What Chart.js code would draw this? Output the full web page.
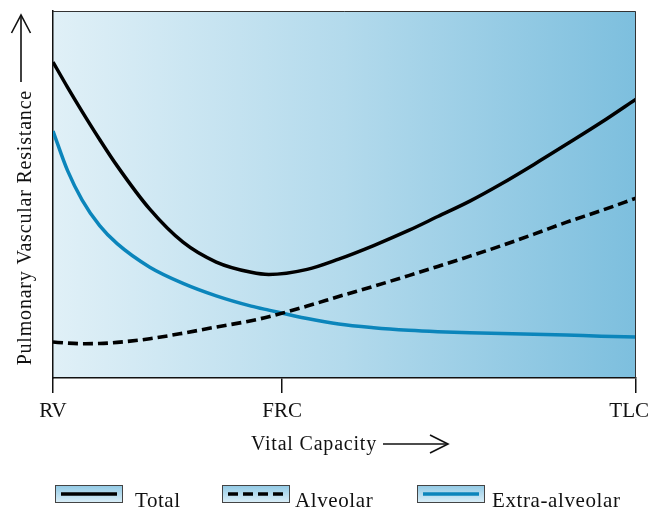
<!DOCTYPE html>
<html>
<head>
<meta charset="utf-8">
<script src="https://cdn.jsdelivr.net/npm/chart.js@4.4.1/dist/chart.umd.min.js"></script>
<style>
  html, body { margin: 0; padding: 0; background: #fff; }
  #wrap { width: 650px; height: 510px; }
</style>
</head>
<body>
<div id="wrap"><canvas id="chart"></canvas></div>
<script>
// percent of vital capacity, RV = 0, TLC = 100
const vitalCapacity = [0, 2.5, 5, 8, 11, 16.6, 22.3, 28, 34, 37, 43.6, 49, 55, 61, 66, 71.5, 77, 82.5, 88, 94, 100];
const total = [86.1, 79.2, 72.6, 65.0, 57.8, 46.0, 37.0, 31.6, 28.8, 28.2, 29.6, 32.4, 36.1, 40.2, 44.0, 48.2, 53.0, 58.2, 63.6, 69.6, 76.0];
const alveolar = [9.8, 9.5, 9.35, 9.4, 9.7, 10.7, 12.2, 13.9, 15.6, 16.7, 19.6, 22.2, 25.0, 27.9, 30.4, 33.2, 36.1, 39.2, 42.4, 45.6, 49.0];
const extraAlveolar = [67.3, 56.5, 48.5, 41.5, 36.6, 30.2, 25.8, 22.4, 19.6, 18.5, 16.2, 14.7, 13.7, 13.0, 12.6, 12.3, 12.1, 11.9, 11.7, 11.4, 11.2];
const tickValues = [0, 39.3, 100];
const tickLabels = ['RV', 'FRC', 'TLC'];
const seriesNames = ['Total', 'Alveolar', 'Extra-alveolar'];
const xTitle = 'Vital Capacity';
const yTitle = 'Pulmonary Vascular Resistance';

const SERIF = '"Liberation Serif", "DejaVu Serif", serif';
const pts = vals => vals.map((v, i) => ({ x: vitalCapacity[i], y: v }));

// open up the lettering slightly so it covers about the same length as the original
function spaced(ctx, text, target, maxGap) {
  if (!('letterSpacing' in ctx)) return;
  ctx.letterSpacing = '0px';
  const w = ctx.measureText(text).width;
  const s = Math.min(maxGap, Math.max(0, (target - w) / (text.length - 1)));
  ctx.letterSpacing = s.toFixed(2) + 'px';
}

function arrowHead(ctx, tipX, tipY, dx, dy, len, half) {
  const bx = tipX - dx * len, by = tipY - dy * len;
  ctx.beginPath();
  ctx.moveTo(bx - dy * half, by + dx * half);
  ctx.lineTo(tipX, tipY);
  ctx.lineTo(bx + dy * half, by - dx * half);
  ctx.stroke();
}

const decor = {
  id: 'decor',
  beforeDraw(chart) {
    const { ctx, chartArea: a } = chart;
    const g = ctx.createLinearGradient(a.left, 0, a.right, 0);
    g.addColorStop(0, '#e0f0f7');
    g.addColorStop(0.5, '#b3daec');
    g.addColorStop(1, '#7dbfde');
    ctx.save();
    ctx.fillStyle = g;
    ctx.fillRect(a.left, a.top, a.right - a.left, a.bottom - a.top);
    ctx.restore();
  },
  afterDraw(chart) {
    const { ctx, chartArea: a } = chart;
    const xs = chart.scales.x;
    ctx.save();

    // frame top / right
    ctx.strokeStyle = '#333';
    ctx.lineWidth = 1;
    ctx.beginPath();
    ctx.moveTo(a.left, a.top + 0.5);
    ctx.lineTo(a.right - 0.5, a.top + 0.5);
    ctx.lineTo(a.right - 0.5, a.bottom);
    ctx.stroke();

    // tick labels
    ctx.fillStyle = '#111';
    ctx.font = '21px ' + SERIF;
    ctx.textAlign = 'center';
    ctx.textBaseline = 'alphabetic';
    tickValues.forEach((v, i) => {
      const w = ctx.measureText(tickLabels[i]).width;
      let px = xs.getPixelForValue(v);
      px = Math.min(Math.max(px, w / 2 + 1), chart.width - w / 2 - 1);
      ctx.fillText(tickLabels[i], px, 417);
    });

    // x title + arrow
    ctx.font = '20px ' + SERIF;
    spaced(ctx, xTitle, 132, 0.8);
    ctx.textAlign = 'right';
    ctx.fillText(xTitle, 377, 450);
    ctx.letterSpacing = '0px';
    ctx.strokeStyle = '#111';
    ctx.lineWidth = 1.6;
    ctx.beginPath();
    ctx.moveTo(383, 444);
    ctx.lineTo(447, 444);
    ctx.stroke();
    arrowHead(ctx, 448, 444, 1, 0, 18, 9);

    // y title + arrow
    ctx.save();
    ctx.translate(31, 90);
    ctx.rotate(-Math.PI / 2);
    ctx.font = '20px ' + SERIF;
    spaced(ctx, yTitle, 290, 0.8);
    ctx.textAlign = 'right';
    ctx.fillText(yTitle, 0, 0);
    ctx.restore();
    ctx.letterSpacing = '0px';
    ctx.beginPath();
    ctx.moveTo(21, 82);
    ctx.lineTo(21, 16);
    ctx.stroke();
    arrowHead(ctx, 21, 15, 0, -1, 18, 9.5);

    // legend
    const boxX = [55, 222, 417];
    const textX = [135, 295, 492];
    chart.data.datasets.forEach((ds, i) => {
      const x = boxX[i], y = 485, w = 68, h = 18;
      const bg = ctx.createLinearGradient(0, y, 0, y + h);
      bg.addColorStop(0, '#8fc8e4');
      bg.addColorStop(1, '#dceff8');
      ctx.fillStyle = bg;
      ctx.fillRect(x, y, w, h);
      ctx.strokeStyle = '#444';
      ctx.lineWidth = 1;
      ctx.strokeRect(x + 0.5, y + 0.5, w - 1, h - 1);
      ctx.strokeStyle = ds.borderColor;
      ctx.lineWidth = ds.borderWidth;
      ctx.setLineDash(ds.borderDash || []);
      ctx.beginPath();
      ctx.moveTo(x + 6, y + h / 2);
      ctx.lineTo(x + w - 6, y + h / 2);
      ctx.stroke();
      ctx.setLineDash([]);
      ctx.fillStyle = '#111';
      ctx.font = '21px ' + SERIF;
      spaced(ctx, ds.label, [45, 84, 135][i], 0.6);
      ctx.textAlign = 'left';
      ctx.fillText(ds.label, textX[i], 507);
      ctx.letterSpacing = '0px';
    });
    ctx.restore();
  }
};

new Chart(document.getElementById('chart'), {
  type: 'line',
  data: {
    datasets: [
      { label: seriesNames[0], data: pts(total), borderColor: '#000', borderWidth: 3.5 },
      { label: seriesNames[1], data: pts(alveolar), borderColor: '#000', borderWidth: 3.6, borderDash: [10, 5] },
      { label: seriesNames[2], data: pts(extraAlveolar), borderColor: '#0b85bb', borderWidth: 3.5 }
    ]
  },
  options: {
    responsive: true,
    maintainAspectRatio: false,
    animation: false,
    events: [],
    layout: { padding: { top: 11, right: 14, bottom: 0, left: 0 } },
    elements: {
      point: { radius: 0 },
      line: { cubicInterpolationMode: 'monotone', fill: false, borderCapStyle: 'butt' }
    },
    plugins: { legend: { display: false }, tooltip: { enabled: false } },
    scales: {
      x: {
        type: 'linear',
        min: 0,
        max: 100,
        afterBuildTicks: s => { s.ticks = tickValues.map(v => ({ value: v })); },
        afterFit: s => { s.height = 132; },
        ticks: { display: false },
        grid: { drawOnChartArea: false, drawTicks: true, tickLength: 15, color: '#111', lineWidth: 1.5 },
        border: { display: true, color: '#111', width: 1.5 }
      },
      y: {
        min: 0,
        max: 100,
        afterFit: s => { s.width = 53; },
        ticks: { display: false },
        grid: { display: false },
        border: { display: true, color: '#111', width: 1.5 }
      }
    }
  },
  plugins: [decor]
});
</script>
</body>
</html>
